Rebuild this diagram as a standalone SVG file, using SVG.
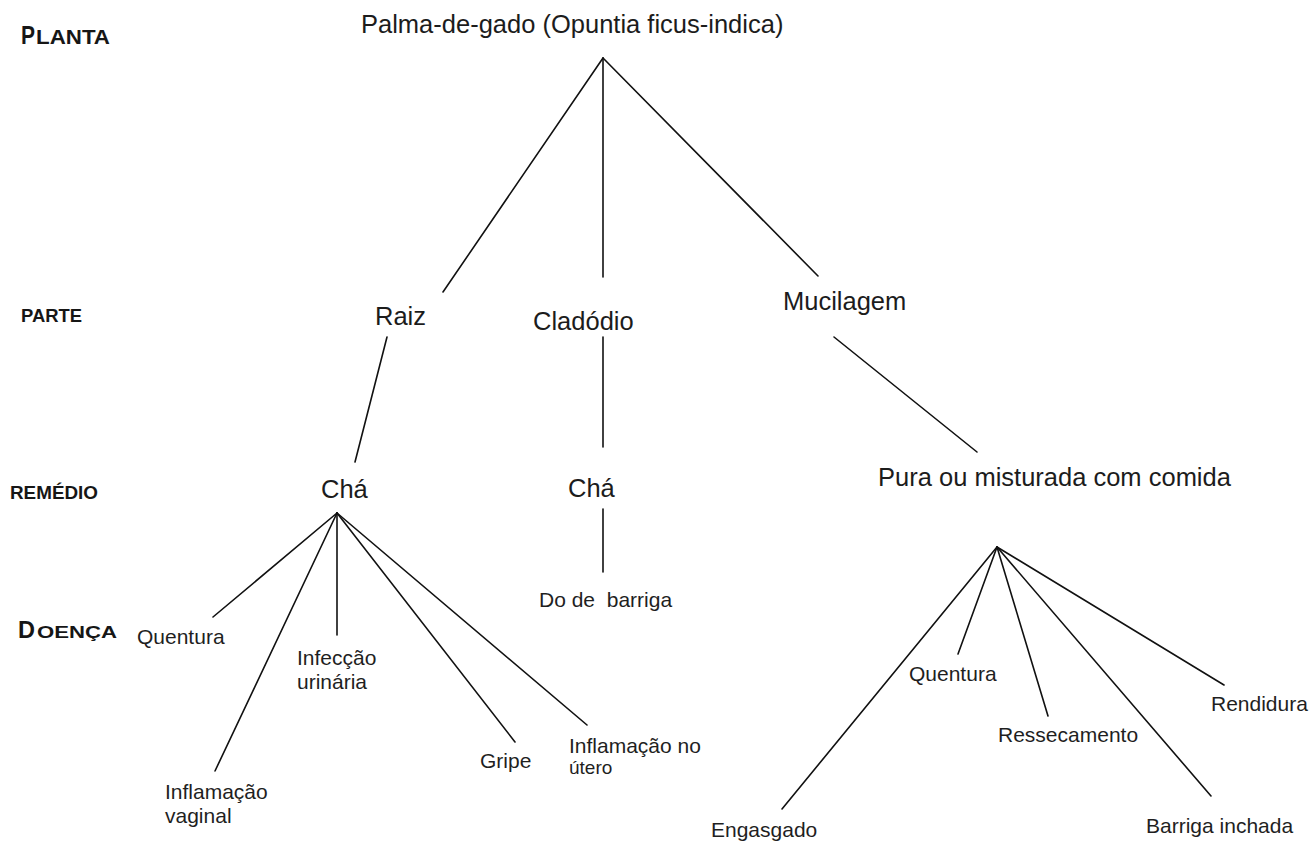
<svg xmlns="http://www.w3.org/2000/svg" width="1309" height="842" viewBox="0 0 1309 842">
<style>
.bg{fill:#ffffff}
.lbl{font-family:"Liberation Sans",Arial,sans-serif;font-size:25.5px;fill:#1c1c1c}
.sm{font-family:"Liberation Sans",Arial,sans-serif;font-size:21px;fill:#1f1f1f;white-space:pre}
.lv{font-family:"Liberation Sans",Arial,sans-serif;font-weight:bold;fill:#161616}
.edge{stroke:#111111;stroke-width:1.6;fill:none;stroke-linecap:round}
</style>
<rect class="bg" x="0" y="0" width="1309" height="842"/>

<g id="levels">
  <g id="level-planta">
    <text class="lv" x="21" y="44" font-size="26" textLength="14" lengthAdjust="spacingAndGlyphs">P</text>
    <text class="lv" x="36" y="44" font-size="19.5" textLength="74" lengthAdjust="spacingAndGlyphs">LANTA</text>
  </g>
  <g id="level-parte">
    <text class="lv" x="21" y="322" font-size="18" textLength="61" lengthAdjust="spacingAndGlyphs">PARTE</text>
  </g>
  <g id="level-remedio">
    <text class="lv" x="10" y="499" font-size="18" textLength="88" lengthAdjust="spacingAndGlyphs">REMÉDIO</text>
  </g>
  <g id="level-doenca">
    <text class="lv" x="18" y="638" font-size="23" textLength="17" lengthAdjust="spacingAndGlyphs">D</text>
    <text class="lv" x="37" y="638" font-size="16.5" textLength="80" lengthAdjust="spacingAndGlyphs">OENÇA</text>
  </g>
</g>

<g id="connectors">
  <line class="edge" x1="603" y1="58" x2="443" y2="292"/>
  <line class="edge" x1="603" y1="58" x2="603" y2="277"/>
  <line class="edge" x1="603" y1="58" x2="818" y2="276"/>
  <line class="edge" x1="387" y1="337" x2="355" y2="462"/>
  <line class="edge" x1="603" y1="337" x2="603" y2="447"/>
  <line class="edge" x1="834" y1="337" x2="977" y2="452"/>
  <line class="edge" x1="603" y1="509" x2="603" y2="572"/>
  <line class="edge" x1="337" y1="513" x2="213" y2="617"/>
  <line class="edge" x1="337" y1="513" x2="215" y2="771"/>
  <line class="edge" x1="337" y1="513" x2="337" y2="635"/>
  <line class="edge" x1="337" y1="513" x2="515" y2="742"/>
  <line class="edge" x1="337" y1="513" x2="587" y2="725"/>
  <line class="edge" x1="997" y1="547" x2="782" y2="809"/>
  <line class="edge" x1="997" y1="547" x2="958" y2="654"/>
  <line class="edge" x1="997" y1="547" x2="1048" y2="716"/>
  <line class="edge" x1="997" y1="547" x2="1211" y2="796"/>
  <line class="edge" x1="997" y1="547" x2="1224" y2="685"/>
</g>

<g id="node-palma"><text class="lbl" x="361" y="33">Palma-de-gado (Opuntia ficus-indica)</text></g>
<g id="node-raiz"><text class="lbl" x="375" y="325">Raiz</text></g>
<g id="node-cladodio"><text class="lbl" x="533" y="330">Cladódio</text></g>
<g id="node-mucilagem"><text class="lbl" x="783" y="310">Mucilagem</text></g>
<g id="node-cha-raiz"><text class="lbl" x="321" y="498">Chá</text></g>
<g id="node-cha-cladodio"><text class="lbl" x="568" y="497">Chá</text></g>
<g id="node-pura"><text class="lbl" x="878" y="486">Pura ou misturada com comida</text></g>

<g id="node-quentura-1"><text class="sm" x="137" y="644">Quentura</text></g>
<g id="node-inflamacao-vaginal"><text class="sm" x="165" y="799">Inflamação<tspan x="165" dy="24">vaginal</tspan></text></g>
<g id="node-infeccao"><text class="sm" x="297" y="665">Infecção<tspan x="297" dy="24">urinária</tspan></text></g>
<g id="node-gripe"><text class="sm" x="480" y="768">Gripe</text></g>
<g id="node-inflamacao-utero"><text class="sm" x="569" y="753">Inflamação no<tspan x="569" dy="21" font-size="19">útero</tspan></text></g>
<g id="node-dor-barriga"><text class="sm" x="539" y="607">Do de  barriga</text></g>

<g id="node-engasgado"><text class="sm" x="711" y="837">Engasgado</text></g>
<g id="node-quentura-2"><text class="sm" x="909" y="681">Quentura</text></g>
<g id="node-ressecamento"><text class="sm" x="998" y="742">Ressecamento</text></g>
<g id="node-barriga-inchada"><text class="sm" x="1146" y="833">Barriga inchada</text></g>
<g id="node-rendidura"><text class="sm" x="1211" y="711">Rendidura</text></g>
</svg>
